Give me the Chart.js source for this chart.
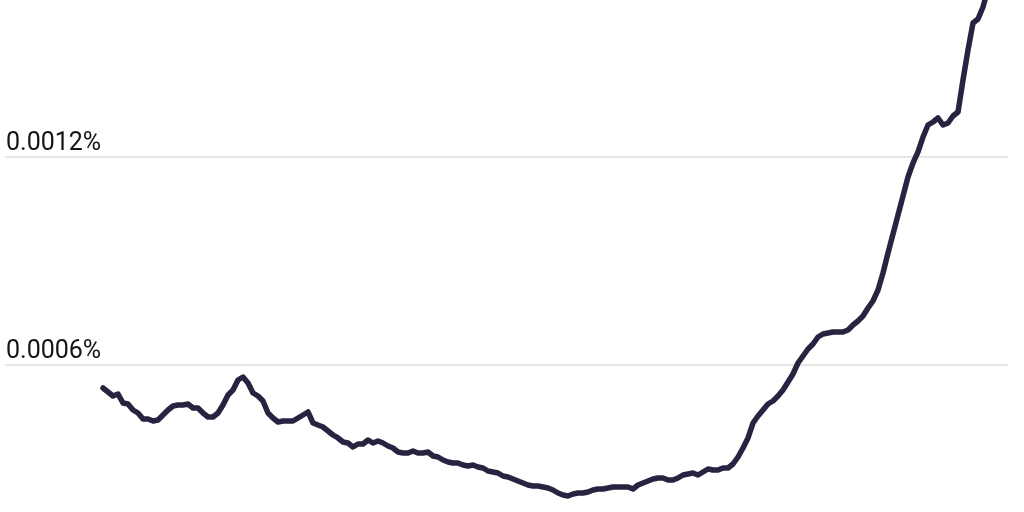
<!DOCTYPE html>
<html>
<head>
<meta charset="utf-8">
<script src="https://cdn.jsdelivr.net/npm/chart.js@4"></script>
<style>
  html, body { margin: 0; padding: 0; background: #ffffff; }
  #wrap { width: 1024px; height: 512px; position: relative; }
</style>
</head>
<body>
<div id="wrap"><canvas id="c"></canvas></div>
<script>
// Period index (one per observation)
const periods = Array.from({length: 179}, (_, i) => i);
// Share values in percent
const shareValues = [
  0.0005351, 0.0005236, 0.0005120, 0.0005178, 0.0004918, 0.0004889, 0.0004716, 0.0004630, 0.0004457, 0.0004457,
  0.0004399, 0.0004428, 0.0004572, 0.0004716, 0.0004832, 0.0004861, 0.0004861, 0.0004889, 0.0004774, 0.0004774,
  0.0004630, 0.0004514, 0.0004514, 0.0004630, 0.0004861, 0.0005149, 0.0005293, 0.0005582, 0.0005668, 0.0005495,
  0.0005207, 0.0005120, 0.0004976, 0.0004630, 0.0004486, 0.0004370, 0.0004399, 0.0004399, 0.0004399, 0.0004486,
  0.0004572, 0.0004659, 0.0004341, 0.0004284, 0.0004226, 0.0004111, 0.0003995, 0.0003909, 0.0003793, 0.0003764,
  0.0003649, 0.0003736, 0.0003736, 0.0003851, 0.0003764, 0.0003822, 0.0003764, 0.0003678, 0.0003620, 0.0003505,
  0.0003476, 0.0003476, 0.0003534, 0.0003476, 0.0003476, 0.0003505, 0.0003389, 0.0003361, 0.0003274, 0.0003216,
  0.0003188, 0.0003188, 0.0003130, 0.0003101, 0.0003130, 0.0003072, 0.0003043, 0.0002957, 0.0002928, 0.0002899,
  0.0002812, 0.0002784, 0.0002726, 0.0002668, 0.0002611, 0.0002553, 0.0002524, 0.0002524, 0.0002495, 0.0002466,
  0.0002409, 0.0002322, 0.0002264, 0.0002236, 0.0002293, 0.0002322, 0.0002322, 0.0002351, 0.0002409, 0.0002437,
  0.0002437, 0.0002466, 0.0002495, 0.0002495, 0.0002495, 0.0002495, 0.0002437, 0.0002553, 0.0002611, 0.0002668,
  0.0002726, 0.0002755, 0.0002755, 0.0002697, 0.0002697, 0.0002755, 0.0002841, 0.0002870, 0.0002899, 0.0002841,
  0.0002928, 0.0003014, 0.0002986, 0.0002986, 0.0003043, 0.0003043, 0.0003159, 0.0003361, 0.0003620, 0.0003909,
  0.0004341, 0.0004543, 0.0004716, 0.0004889, 0.0004976, 0.0005120, 0.0005293, 0.0005524, 0.0005755, 0.0006072,
  0.0006274, 0.0006476, 0.0006620, 0.0006822, 0.0006909, 0.0006937, 0.0006966, 0.0006966, 0.0006966, 0.0007024,
  0.0007168, 0.0007284, 0.0007428, 0.0007659, 0.0007861, 0.0008178, 0.0008668, 0.0009245, 0.0009793, 0.0010341,
  0.0010889, 0.0011437, 0.0011841, 0.0012159, 0.0012591, 0.0012937, 0.0013024, 0.0013139, 0.0012937, 0.0012995,
  0.0013197, 0.0013312, 0.0014236, 0.0015101, 0.0015880, 0.0015995, 0.0016341, 0.0016860, 0.0017351
];
// Labelled y ticks
const yTickValues = [0.0006, 0.0012];

const points = periods.map((p, i) => ({ x: p, y: shareValues[i] }));

new Chart(document.getElementById('c'), {
  type: 'line',
  data: {
    datasets: [{
      data: points,
      borderColor: '#272340',
      borderWidth: 5.5,
      pointRadius: 0,
      tension: 0,
      borderJoinStyle: 'round',
      borderCapStyle: 'round',
      fill: false
    }]
  },
  options: {
    responsive: true,
    maintainAspectRatio: false,
    animation: false,
    layout: { padding: { left: 0, right: 16, top: 0, bottom: 0 } },
    plugins: { legend: { display: false }, tooltip: { enabled: false } },
    scales: {
      x: {
        type: 'linear',
        display: false,
        min: -19.6,
        max: 181
      },
      y: {
        type: 'linear',
        min: 0.0001774,
        max: 0.0016543,
        border: { display: false },
        grid: { color: '#e6e6e6', lineWidth: 2, drawTicks: false },
        afterFit(scale) {
          scale.width = 5;
          scale.paddingTop = 0;
          scale.paddingBottom = 0;
        },
        afterBuildTicks(scale) { scale.ticks = yTickValues.map(v => ({ value: v })); },
        ticks: {
          mirror: true,
          padding: 1,
          labelOffset: -14,
          color: '#141414',
          font: { family: 'Roboto, "Open Sans", sans-serif', size: 25, weight: '400' },
          callback: v => v.toFixed(4) + '%'
        }
      }
    }
  }
});
</script>
</body>
</html>
